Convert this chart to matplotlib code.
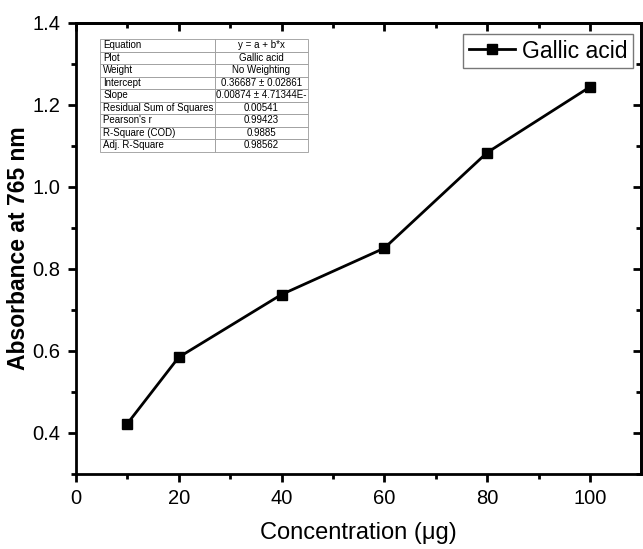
import matplotlib.pyplot as plt

plt.rcParams['font.family'] = ['Liberation Sans', 'DejaVu Sans']

# data
concentration = [10, 20, 40, 60, 80, 100]
absorbance = [0.422, 0.584, 0.737, 0.850, 1.083, 1.243]

table_labels = ["Equation", "Plot", "Weight", "Intercept", "Slope",
                "Residual Sum of Squares", "Pearson's r", "R-Square (COD)",
                "Adj. R-Square"]
table_values = ["y = a + b*x", "Gallic acid", "No Weighting",
                "0.36687 \u00b1 0.02861", "0.00874 \u00b1 4.71344E-",
                "0.00541", "0.99423", "0.9885", "0.98562"]

fig = plt.figure(figsize=(6.43, 5.49), dpi=100)
ax = fig.add_axes([0.118, 0.137, 0.8795, 0.822])

ax.plot(concentration, absorbance, color='black', linewidth=2,
        marker='s', markersize=7.5, label='Gallic acid')

ax.set_xlim(0, 110)
ax.set_ylim(0.3, 1.4)
ax.set_xticks([0, 20, 40, 60, 80, 100])
ax.set_xticks(range(10, 110, 20), minor=True)
ax.set_yticks([0.4, 0.6, 0.8, 1.0, 1.2, 1.4])
ax.set_yticks([0.3, 0.5, 0.7, 0.9, 1.1, 1.3], minor=True)

for side in ax.spines.values():
    side.set_linewidth(2)

ax.tick_params(which='major', direction='out', length=6, width=2,
               labelsize=14.5, pad=5)
ax.tick_params(which='minor', direction='out', length=3.5, width=2)

# mirrored ticks on top and right, pointing inward
top = ax.secondary_xaxis('top')
top.set_xticks([0, 20, 40, 60, 80, 100])
top.set_xticks(range(10, 110, 20), minor=True)
top.tick_params(which='major', direction='in', length=6, width=2, labeltop=False)
top.tick_params(which='minor', direction='in', length=3.5, width=2)
right = ax.secondary_yaxis('right')
right.set_yticks([0.4, 0.6, 0.8, 1.0, 1.2, 1.4])
right.set_yticks([0.3, 0.5, 0.7, 0.9, 1.1, 1.3], minor=True)
right.tick_params(which='major', direction='in', length=6, width=2, labelright=False)
right.tick_params(which='minor', direction='in', length=3.5, width=2)
top.spines['top'].set_linewidth(2)
right.spines['right'].set_linewidth(2)

ax.set_xlabel('Concentration (\u03bcg)', fontsize=17, labelpad=10)
ax.set_ylabel('Absorbance at 765 nm', fontsize=16.5, fontweight='bold')
ax.yaxis.set_label_coords(-0.082, 0.5)

leg = ax.legend(loc='upper right', bbox_to_anchor=(0.985, 0.975),
                borderaxespad=0, fontsize=16.5, handlelength=2.0,
                handletextpad=0.3, fancybox=False, borderpad=0.25)
leg.get_frame().set_edgecolor('#555555')
leg.get_frame().set_linewidth(1)

# fit results table
rows = [[lab, val] for lab, val in zip(table_labels, table_values)]
tbl = ax.table(cellText=rows, colWidths=[0.553, 0.447],
               bbox=[0.0424, 0.714, 0.368, 0.249], zorder=5)
tbl.auto_set_font_size(False)
for (r, c), cell in tbl.get_celld().items():
    cell.set_fontsize(7)
    cell.set_edgecolor('#9a9a9a')
    cell.set_linewidth(0.6)
    cell.PAD = 0.03
    cell.get_text().set_ha('left' if c == 0 else 'center')
    if c == 0:
        cell._loc = 'left'
    else:
        cell._loc = 'center'

fig.savefig('out.png', dpi=100)
